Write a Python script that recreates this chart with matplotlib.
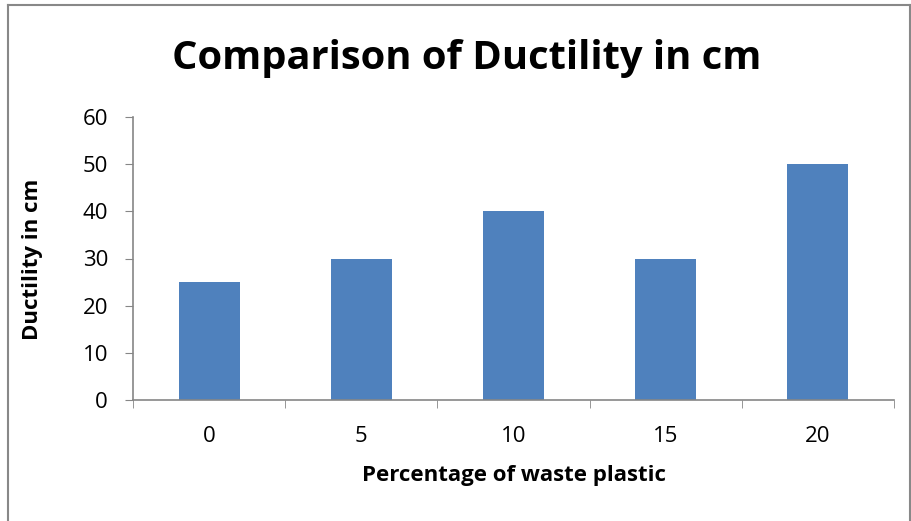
import matplotlib
matplotlib.use("Agg")
import matplotlib.pyplot as plt
from matplotlib.lines import Line2D

categories = ["0", "5", "10", "15", "20"]
values = [25, 30, 40, 30, 50]
yticks = [0, 10, 20, 30, 40, 50, 60]

plt.rcParams['font.family'] = ['Open Sans', 'DejaVu Sans']

fig = plt.figure(figsize=(9.12, 5.21), dpi=100)
ax = fig.add_axes([133/912, 1-400/521, (894-133)/912, (400-117)/521])

x = list(range(len(categories)))
ax.bar(x, values, width=0.4, color='#4F81BD', zorder=2)
ax.set_xlim(-0.5, len(categories)-0.5)
ax.set_ylim(0, 60)
ax.set_yticks(yticks)
ax.set_yticklabels([str(v) for v in yticks], fontsize=16)
ax.set_xticks(x)
ax.set_xticklabels(categories, fontsize=16)
ax.tick_params(axis='x', length=0, pad=19)
ax.tick_params(axis='y', length=6, color='#868686', pad=12)
ax.set_xticks([i - 0.5 for i in range(len(categories)+1)], minor=True)
ax.tick_params(axis='x', which='minor', length=6, color='#868686', direction='out')

for s in ['top', 'right']:
    ax.spines[s].set_visible(False)
for s in ['left', 'bottom']:
    ax.spines[s].set_color('#868686')
    ax.spines[s].set_linewidth(1.2)

ax.set_xlabel('Percentage of waste plastic', fontsize=16, fontweight='bold')
ax.xaxis.set_label_coords(514/912, 1-475/521, transform=fig.transFigure)
ax.set_ylabel('Ductility in cm', fontsize=16, fontweight='bold')
ax.yaxis.set_label_coords(33/912, 1-259/521, transform=fig.transFigure)
ax.xaxis.label.set_va('center')
ax.yaxis.label.set_va('center')
fig.text(467/912, 1-58/521, 'Comparison of Ductility in cm', fontsize=28.7,
         fontweight='bold', ha='center', va='center')

c = '#888888'
fig.add_artist(Line2D([8/912, 8/912], [0, 1-5/521], transform=fig.transFigure, color=c, lw=1.5))
fig.add_artist(Line2D([8/912, 910/912], [1-5/521, 1-5/521], transform=fig.transFigure, color=c, lw=1.5))
fig.add_artist(Line2D([910/912, 910/912], [0, 1-5/521], transform=fig.transFigure, color=c, lw=1.5))

fig.savefig('out.png', dpi=100)
